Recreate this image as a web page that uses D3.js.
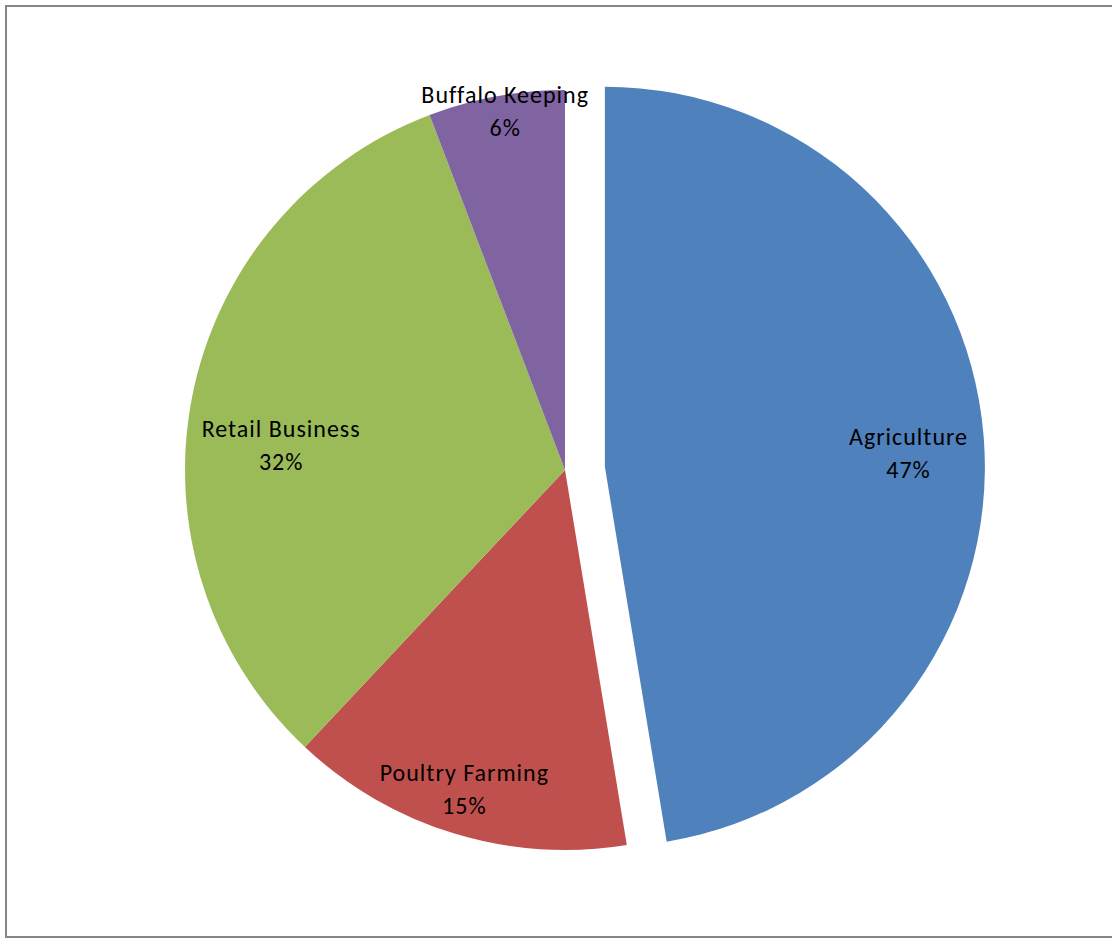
<!DOCTYPE html>
<html>
<head>
<meta charset="utf-8">
<script src="https://cdn.jsdelivr.net/npm/d3@7/dist/d3.min.js"></script>
<style>
  html, body { margin: 0; padding: 0; background: #fff; }
  svg { display: block; }
</style>
</head>
<body>
<div id="chart"></div>
<script>
// Sources of household income, share in percent
const categories = ["Agriculture", "Poultry Farming", "Retail Business", "Buffalo Keeping"];
const shares = [47.4, 14.6, 32.2, 5.8];
const sliceColors = ["#4F81BD", "#C0504D", "#9BBB59", "#8064A2"];

// Slices pulled away from the centre (only Agriculture)
const explodedSlice = "Agriculture";

const width = 1112, height = 938;
const cx = 565, cy = 470, radius = 380, explodeBy = 40;

// Label placement along each slice's mid angle: radius fraction and angle nudge (deg)
const labelRadius = [0.80, 0.88, 0.75, 0.96];
const labelNudge = [2, 0.6, -6, 1];

const svg = d3.select("#chart").append("svg")
  .attr("width", width)
  .attr("height", height);

// Chart area frame
svg.append("rect")
  .attr("x", 6).attr("y", 6)
  .attr("width", 1110).attr("height", 931)
  .attr("fill", "#fff")
  .attr("stroke", "#868686")
  .attr("stroke-width", 2);

const data = categories.map((c, i) => ({ name: c, value: shares[i], color: sliceColors[i], idx: i }));
const total = d3.sum(shares);

const pie = d3.pie().sort(null).value(d => d.value).startAngle(0).endAngle(2 * Math.PI);
const arcs = pie(data);
const arc = d3.arc().innerRadius(0).outerRadius(radius);

const g = svg.append("g").attr("transform", `translate(${cx},${cy})`);

function offsetOf(d) {
  if (d.data.name !== explodedSlice) return [0, 0];
  const mid = (d.startAngle + d.endAngle) / 2;
  return [Math.sin(mid) * explodeBy, -Math.cos(mid) * explodeBy];
}

const slices = g.selectAll("g.slice")
  .data(arcs)
  .join("g")
  .attr("class", "slice")
  .attr("transform", d => { const [dx, dy] = offsetOf(d); return `translate(${dx},${dy})`; });

slices.append("path")
  .attr("d", arc)
  .attr("fill", d => d.data.color);

const pct = d3.format(".0%");

slices.append("text")
  .attr("text-anchor", "middle")
  .attr("font-family", "Carlito, Calibri, Lato, 'Open Sans', sans-serif")
  .attr("font-size", 24)
  .attr("letter-spacing", "1px")
  .attr("fill", "#000")
  .each(function (d) {
    const i = d.data.idx;
    const a = (d.startAngle + d.endAngle) / 2 + labelNudge[i] * Math.PI / 180;
    const r = radius * labelRadius[i];
    const x = Math.sin(a) * r, y = -Math.cos(a) * r;
    const t = d3.select(this);
    t.append("tspan").attr("x", x).attr("y", y - 16).attr("dy", "0.35em").text(d.data.name);
    t.append("tspan").attr("x", x).attr("y", y + 17).attr("dy", "0.35em").text(pct(d.data.value / total));
  });
</script>
</body>
</html>
